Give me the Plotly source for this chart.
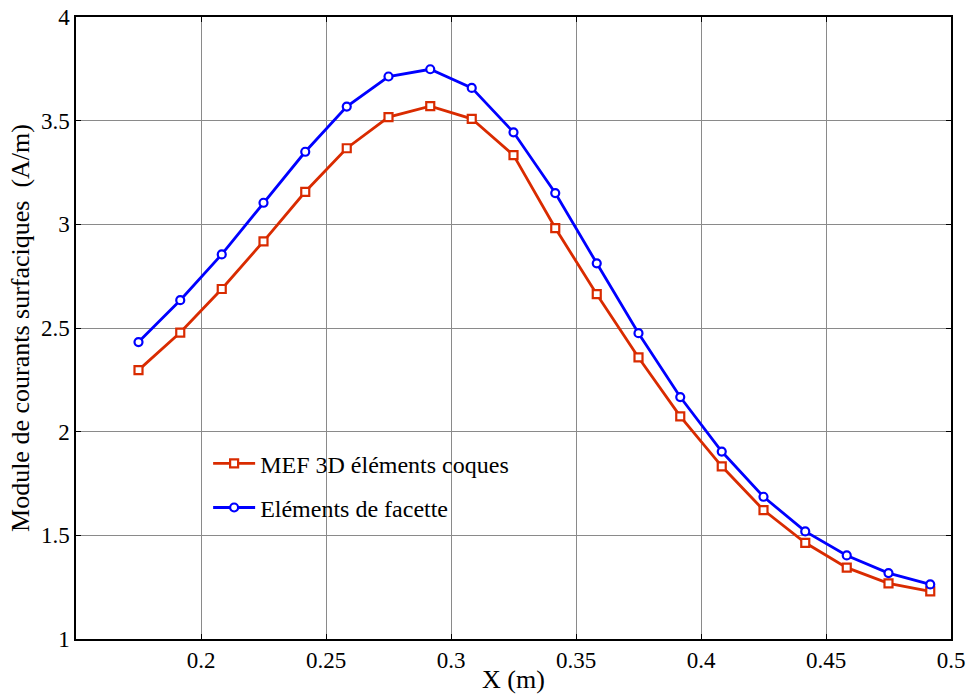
import plotly.graph_objects as go

x_pos = [0.175, 0.1917, 0.2083, 0.225, 0.2417, 0.2583, 0.275, 0.2917, 0.3083, 0.325,
         0.3417, 0.3583, 0.375, 0.3917, 0.4083, 0.425, 0.4417, 0.4583, 0.475, 0.4917]
mef_coques = [2.297, 2.478, 2.688, 2.918, 3.157, 3.367, 3.517, 3.570, 3.509, 3.334,
              2.982, 2.663, 2.358, 2.074, 1.833, 1.622, 1.464, 1.344, 1.268, 1.230]
facette = [2.432, 2.634, 2.855, 3.104, 3.350, 3.568, 3.713, 3.748, 3.658, 3.444,
           3.151, 2.812, 2.475, 2.167, 1.904, 1.686, 1.519, 1.403, 1.318, 1.263]

x_tickvals = [0.2, 0.25, 0.3, 0.35, 0.4, 0.45, 0.5]
x_ticktext = ["0.2", "0.25", "0.3", "0.35", "0.4", "0.45", "0.5"]
y_tickvals = [1, 1.5, 2, 2.5, 3, 3.5, 4]
y_ticktext = ["1", "1.5", "2", "2.5", "3", "3.5", "4"]

FONT = "Liberation Serif"
RED = "#D92B00"
BLUE = "#0000FF"

fig = go.Figure()
fig.add_trace(go.Scatter(
    x=x_pos, y=mef_coques, mode="lines+markers", name="MEF 3D éléments coques",
    legendgroup="a",
    line=dict(color=RED, width=2.8),
    marker=dict(symbol="square", size=8, color="white", line=dict(color=RED, width=2.2)),
))
fig.add_trace(go.Scatter(
    x=x_pos, y=facette, mode="lines+markers", name="Eléments de facette",
    legendgroup="b",
    line=dict(color=BLUE, width=2.8),
    marker=dict(symbol="circle", size=8, color="white", line=dict(color=BLUE, width=2.2)),
))

axis_common = dict(
    showgrid=True, gridcolor="#8a8a8a", gridwidth=1,
    showline=True, linecolor="black", linewidth=1.5, mirror="ticks",
    ticks="inside", ticklen=5, tickcolor="black", tickwidth=1,
    zeroline=False, automargin=False,
    tickfont=dict(family=FONT, size=23, color="black"),
)

fig.update_layout(
    width=970, height=694,
    margin=dict(l=76, r=19, t=17, b=55),
    paper_bgcolor="white", plot_bgcolor="white",
    font=dict(family=FONT, color="black"),
    showlegend=True,
    legend=dict(
        x=0.151, y=0.318, xanchor="left", yanchor="top",
        bgcolor="rgba(255,255,255,0)", borderwidth=0,
        font=dict(family=FONT, size=24, color="black"),
        tracegroupgap=10, itemwidth=42,
    ),
    xaxis=dict(
        range=[0.15, 0.5], tickvals=x_tickvals, ticktext=x_ticktext,
        title=dict(text="X (m)", font=dict(family=FONT, size=26), standoff=0),
        **axis_common,
    ),
    yaxis=dict(
        range=[1, 4], tickvals=y_tickvals, ticktext=y_ticktext,
        title=dict(text="Module de courants surfaciques  (A/m)", font=dict(family=FONT, size=26), standoff=4),
        **axis_common,
    ),
)

fig.write_html("out.html", config={"displayModeBar": False},
               post_script="document.body.style.margin='0';document.body.style.overflow='hidden';")
